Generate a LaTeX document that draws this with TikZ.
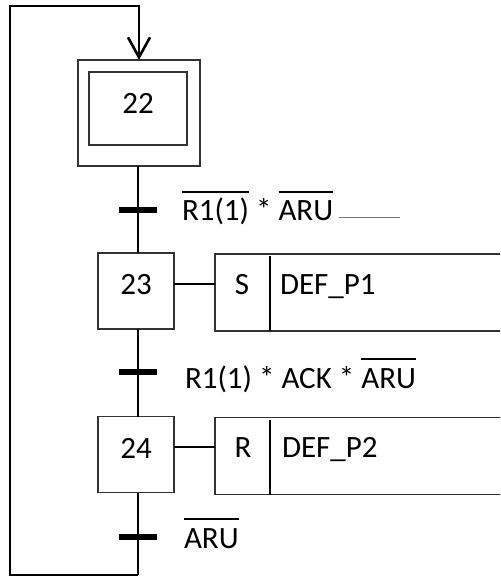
\documentclass[tikz,border=0pt]{standalone}
\usepackage{fontspec}
\setmainfont{Carlito}
\usetikzlibrary{arrows.meta,calc}
% overline drawn at a fixed height above the baseline
\newcommand\ovl[1]{\setbox0\hbox{#1}\rlap{\rule[28pt]{\wd0}{1.8pt}}\box0\relax}

\begin{document}
\begin{tikzpicture}[x=1pt,y=-1pt,
  every node/.style={font=\fontsize{31}{36}\selectfont, inner sep=0pt, outer sep=0pt},
  boxline/.style={draw=black!80, line width=1.2pt},
  stepbox/.style={boxline, minimum width=76pt, minimum height=76pt, text height=19pt, text depth=12pt},
  actbox/.style={boxline, minimum width=289pt, minimum height=77pt},
  sepline/.style={line width=2.6pt},
  bar/.style={fill=black, minimum width=38pt, minimum height=6pt},
  spine/.style={line width=1.6pt},
  link/.style={line width=1.5pt},
  loopline/.style={line width=2.6pt},
  hairline/.style={draw=black!55, line width=0.8pt}]
\useasboundingbox (0,0) rectangle (500,577);
\clip (0,0) rectangle (500,577);

% initial step
\node[boxline, minimum width=122pt, minimum height=106pt] (s22) at (139,113) {};
\node[boxline, minimum width=98pt, minimum height=73pt, text height=19pt, text depth=9pt] (s22in) at (138,108.5) {22};

% steps
\node[stepbox] (s23) at (136,291) {23};
\node[stepbox] (s24) at (136,454.5) {24};

% transition bars
\node[bar] (b1) at (138,210) {};
\node[bar] (b2) at (138,372) {};
\node[bar] (b3) at (138,537) {};

% actions
\node[actbox] (a23) at (359.5,292.5) {};
\draw[sepline] ($(a23.north west)+(55,2)$) -- ($(a23.south west)+(55,0)$);
\node[anchor=base] (a23q) at (242,294) {S};
\node[anchor=base west] (a23t) at (280,294) {DEF\_P1};

\node[actbox] (a24) at (359.5,456) {};
\draw[sepline] ($(a24.north west)+(55,2)$) -- ($(a24.south west)+(55,0)$);
\node[anchor=base] (a24q) at (243,457) {R};
\node[anchor=base west] (a24t) at (282,457) {DEF\_P2};

\draw[link] (s23.east |- a23q.center) -- (a23.west |- a23q.center);
\draw[link] (s24.east |- a24q.center) -- (a24.west |- a24q.center);

% receptivities
\node[anchor=base west] (t1) at (182,220.5) {\ovl{R1(1)} * \ovl{ARU}};
\node[anchor=base west] (t2) at (185,388) {R1(1) * ACK * \ovl{ARU}};
\node[anchor=base west] (t3) at (184,548) {\ovl{ARU}};
\draw[hairline] ($(t1.base east)+(6,-3.5)$) -- ++(61,0);

% vertical links
\draw[spine] (b1.center |- s22.south) -- (b1.center |- s23.north);
\draw[spine] (b2.center |- s23.south) -- (b2.center |- s24.north);
\coordinate (bl) at (138,575);
\coordinate (tl) at (10,6);
\draw[spine] (b3.center |- s24.south) -- (bl);

% loop back to the initial step
\draw[loopline, -{Straight Barb[length=20pt, width=22pt]}] (bl) -| (tl) -| (s22.north);
\end{tikzpicture}
\end{document}
